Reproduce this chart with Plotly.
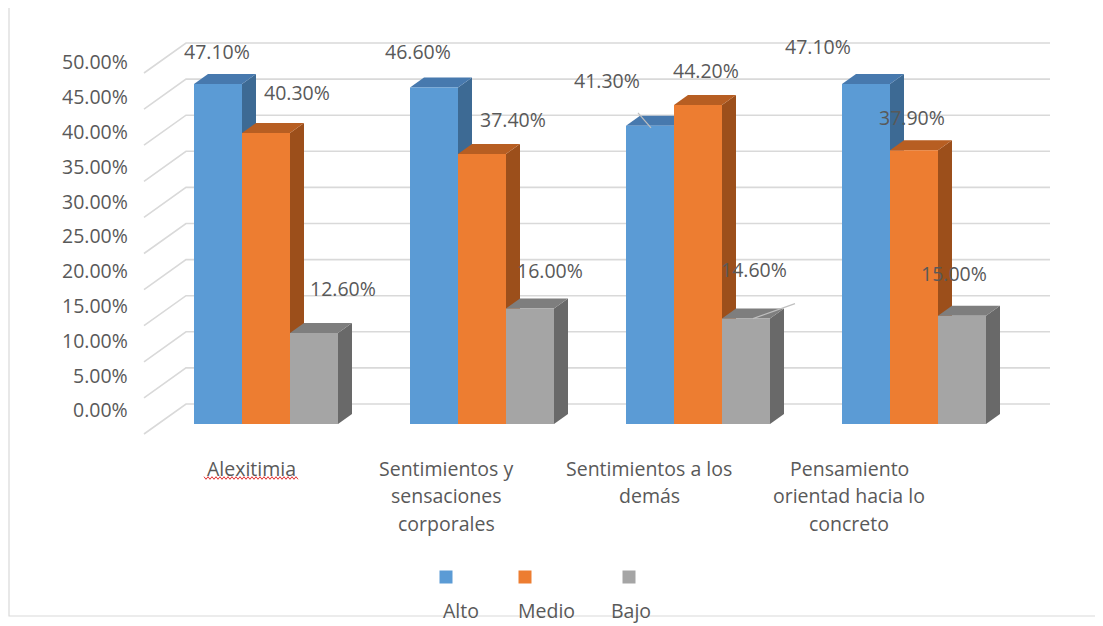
import plotly.graph_objects as go

# ---------------- data ----------------
categories = ["Alexitimia", "Sentimientos y sensaciones corporales",
              "Sentimientos a los demás", "Pensamiento orientad hacia lo concreto"]
category_lines = [["Alexitimia"],
                  ["Sentimientos y", "sensaciones", "corporales"],
                  ["Sentimientos a los", "demás"],
                  ["Pensamiento", "orientad hacia lo", "concreto"]]
series_names = ["Alto", "Medio", "Bajo"]
alto = [47.1, 46.6, 41.3, 47.1]
medio = [40.3, 37.4, 44.2, 37.9]
bajo = [12.6, 16.0, 14.6, 15.0]
tick_values = [0, 5, 10, 15, 20, 25, 30, 35, 40, 45, 50]
tick_labels = ["0.00%", "5.00%", "10.00%", "15.00%", "20.00%", "25.00%",
               "30.00%", "35.00%", "40.00%", "45.00%", "50.00%"]

series_values = [alto, medio, bajo]

# ---------------- styles ----------------
front_colors = ["#5B9BD5", "#ED7D31", "#A5A5A5"]
top_colors = ["#4779AE", "#B75E22", "#7E7E7E"]
side_colors = ["#3D6A94", "#9C4F1B", "#696969"]
TEXT = "#595959"
GRID = "#D9D9D9"
FONT = "Open Sans"
FS = 19.5

# ---------------- geometry (reference-page pixels) ----------------
W, H = 1103, 626
PAGE_OFF = 8                       # browser body margin
FW, FH = W - PAGE_OFF, H - PAGE_OFF
PL, PR, PT, PB = 100, 1063, 10, 496  # plot area in page pixels
PX_CAT = 216.0      # pixels per category
PX_PCT = 7.22       # pixels per percent
X0_PX = 266.0       # pixel x of category 0 centre (bar front plane)
Y0_PX = 424.0       # pixel y of 0% (bar front plane)
xr = [(PL - X0_PX) / PX_CAT, (PR - X0_PX) / PX_CAT]
yr = [-(PB - Y0_PX) / PX_PCT, (Y0_PX - PT) / PX_PCT]

DXU = 42.0 / PX_CAT   # full depth, x units
DYU = 30.0 / PX_PCT   # full depth, y units
BW = (1 - 1 / 3) / 3  # bar width in category units


def proj(x, v, d):
    return x + (d - 1 / 3) * DXU, v + (d - 1 / 3) * DYU


def pxx(px):
    return (px - PL) / (PR - PL)


def pxy(py):
    return (PB - py) / (PB - PT)


def poly(pts):
    return "M " + " L ".join(f"{a:.5f},{b:.5f}" for a, b in pts) + " Z"


shapes = []

# gridlines: diagonal on side wall + horizontal on back wall
xw0, xw1 = -0.5, len(categories) - 0.5
for v in tick_values:
    f = proj(xw0, v, 0)
    bk = proj(xw0, v, 1)
    rt = proj(xw1, v, 1)
    shapes.append(dict(type="path", xref="x", yref="y", layer="below",
                       path=f"M {f[0]:.5f},{f[1]:.5f} L {bk[0]:.5f},{bk[1]:.5f} L {rt[0]:.5f},{rt[1]:.5f}",
                       line=dict(color=GRID, width=1.6)))

# 3D faces of the bars (top + side)
ddx, ddy = DXU / 3, DYU / 3
for i in range(len(categories)):
    for s, vals in enumerate(series_values):
        v = vals[i]
        c = i + (s - 1) * BW
        x0, x1 = c - BW / 2, c + BW / 2
        side = [(x1, 0), (x1, v), (x1 + ddx, v + ddy), (x1 + ddx, ddy)]
        top = [(x0, v), (x1, v), (x1 + ddx, v + ddy), (x0 + ddx, v + ddy)]
        shapes.append(dict(type="path", xref="x", yref="y", layer="below", path=poly(side),
                           fillcolor=side_colors[s], line=dict(width=0)))
        shapes.append(dict(type="path", xref="x", yref="y", layer="below", path=poly(top),
                           fillcolor=top_colors[s], line=dict(width=0)))

fig = go.Figure()
for s, vals in enumerate(series_values):
    fig.add_trace(go.Bar(x=list(range(len(categories))), y=vals, name=series_names[s],
                         marker=dict(color=front_colors[s], line=dict(width=0)),
                         hovertext=categories, showlegend=False))

annotations = []

# data labels (pixel offsets from bar top centre)
label_offsets = [
    [(-1, -32), (-16, -36), (-43, -45), (-48, -37)],
    [(31, -41), (31, -34), (8, -34), (-2, -33)],
    [(29, -45), (20, -38), (8, -49), (-8, -42)],
]
for s, vals in enumerate(series_values):
    for i, v in enumerate(vals):
        c = i + (s - 1) * BW
        dx, dy = label_offsets[s][i]
        annotations.append(dict(x=c, y=v, xref="x", yref="y", text=f"{v:.2f}%",
                                showarrow=False, xshift=dx, yshift=-dy,
                                font=dict(family=FONT, size=FS, color=TEXT)))

# leader lines (series, category) -> pixel offsets of the two ends
leaders = {(0, 2): ((1, 2), (-12, -13)), (2, 2): ((7, 0), (49, -15))}
for (s, i), ((ax, ay), (bx, by)) in leaders.items():
    c = i + (s - 1) * BW
    v = series_values[s][i]
    shapes.append(dict(type="line", xref="x", yref="y",
                       x0=c + ax / PX_CAT, y0=v - ay / PX_PCT,
                       x1=c + bx / PX_CAT, y1=v - by / PX_PCT,
                       line=dict(color="#BFBFBF", width=1.2)))

# value axis labels
for v, t in zip(tick_values, tick_labels):
    annotations.append(dict(x=pxx(130), y=1.94 + 0.964 * v, xref="paper", yref="y",
                            text=t, xanchor="right", yanchor="middle", showarrow=False,
                            font=dict(family=FONT, size=FS, color=TEXT)))

# category labels
cat_shift = [-15, -36, -49, -65]
for i, lines in enumerate(category_lines):
    for k, line in enumerate(lines):
        annotations.append(dict(x=i, y=pxy(468 + 27.5 * k), xref="x", yref="paper",
                                text=line, xshift=cat_shift[i], showarrow=False,
                                yanchor="middle",
                                font=dict(family=FONT, size=FS, color=TEXT)))

# spell-check squiggle under "Alexitimia"
pts = []
xp = 204.0
k = 0
while xp <= 298:
    pts.append((pxx(xp), pxy(478 + (1.3 if k % 2 else -1.3))))
    xp += 2.0
    k += 1
shapes.append(dict(type="path", xref="paper", yref="paper",
                   path="M " + " L ".join(f"{a:.5f},{b:.5f}" for a, b in pts),
                   line=dict(color="#E03030", width=1)))

# legend (markers above text)
leg_marker_px = [446, 525, 629]
leg_text_px = [461, 546, 631]
for s, name in enumerate(series_names):
    cx = leg_marker_px[s]
    shapes.append(dict(type="rect", xref="paper", yref="paper",
                       x0=pxx(cx - 6.5), x1=pxx(cx + 6.5), y0=pxy(583.5), y1=pxy(570.5),
                       fillcolor=front_colors[s], line=dict(width=0)))
    annotations.append(dict(x=pxx(leg_text_px[s]), y=pxy(610), xref="paper", yref="paper",
                            text=name, showarrow=False, yanchor="middle",
                            font=dict(family=FONT, size=FS, color=TEXT)))

# chart border (left and bottom edges visible in the reference)
shapes.append(dict(type="path", xref="paper", yref="paper", layer="below",
                   path=f"M {pxx(9):.5f},{pxy(8):.5f} L {pxx(9):.5f},{pxy(616):.5f} L {pxx(1103):.5f},{pxy(616):.5f}",
                   line=dict(color=GRID, width=1.2)))

fig.update_layout(
    width=FW, height=FH,
    margin=dict(l=PL - PAGE_OFF, r=FW - (PR - PAGE_OFF), t=PT - PAGE_OFF,
                b=FH - (PB - PAGE_OFF), autoexpand=False),
    paper_bgcolor="white", plot_bgcolor="rgba(0,0,0,0)",
    barmode="group", bargap=1 / 3, bargroupgap=0,
    xaxis=dict(range=xr, visible=False, fixedrange=True),
    yaxis=dict(range=yr, visible=False, fixedrange=True),
    shapes=shapes, annotations=annotations, showlegend=False,
)

fig.write_html("out.html")
